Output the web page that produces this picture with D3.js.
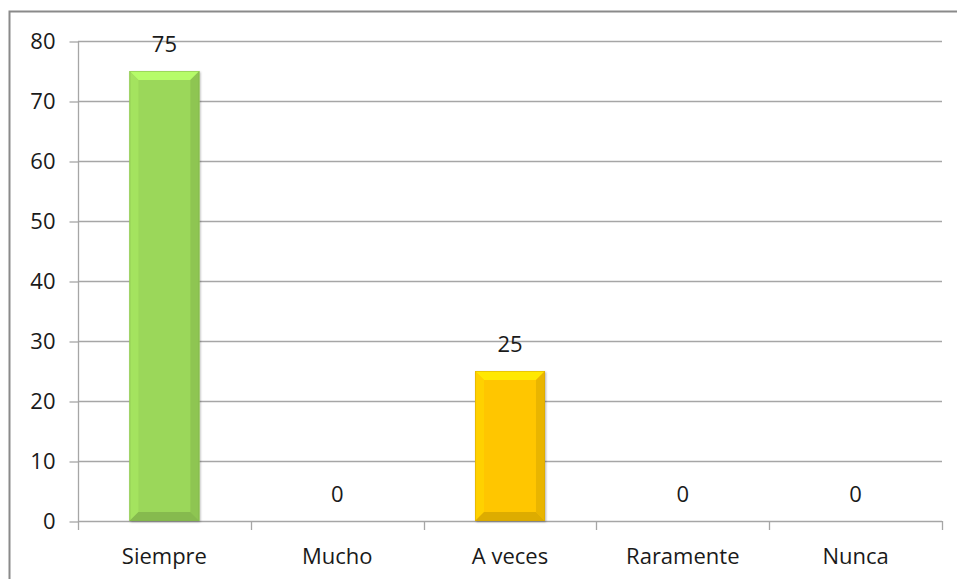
<!DOCTYPE html>
<html>
<head>
<meta charset="utf-8">
<script src="https://cdn.jsdelivr.net/npm/d3@7"></script>
<style>
  html, body { margin: 0; padding: 0; background: #fff; }
  svg { display: block; }
  text { font-family: "Open Sans", sans-serif; fill: #1a1a1a; }
</style>
</head>
<body>
<svg id="chart" width="957" height="579"></svg>
<script>
const categories = ["Siempre", "Mucho", "A veces", "Raramente", "Nunca"];
const values = [75, 0, 25, 0, 0];
const barColors = ["#9BD75A", "#9BD75A", "#FFC600", "#FFC600", "#FFC600"];
const yTicks = [0, 10, 20, 30, 40, 50, 60, 70, 80];

const svg = d3.select("#chart");
const W = 957, H = 579;
const plot = { left: 78, right: 942, top: 41, bottom: 521 };

// outer frame
svg.append("rect")
  .attr("x", 9.5).attr("y", 11.5)
  .attr("width", 960).attr("height", 600)
  .attr("fill", "#fff").attr("stroke", "#8a8a8a").attr("stroke-width", 2);

const x = d3.scaleBand().domain(categories)
  .range([plot.left, plot.right])
  .paddingInner(0.595).paddingOuter(0.2975);
const step = x.step();
const y = d3.scaleLinear().domain([0, 80]).range([plot.bottom, plot.top]);

// gridlines
svg.append("g").selectAll("line").data(yTicks.filter(d => d > 0)).join("line")
  .attr("x1", plot.left).attr("x2", plot.right)
  .attr("y1", d => Math.round(y(d)) + 0.5).attr("y2", d => Math.round(y(d)) + 0.5)
  .attr("stroke", "#a6a6a6").attr("stroke-width", 1.3);

// y axis
const yAxis = d3.axisLeft(y).tickValues(yTicks).tickSize(9).tickPadding(14).tickFormat(d3.format("d"));
const gy = svg.append("g").attr("transform", `translate(${plot.left + 0.5},0.5)`).call(yAxis);
gy.select(".domain").attr("stroke", "#a6a6a6").attr("stroke-width", 1.3).attr("d", `M0,${plot.top}V${plot.bottom}`);
gy.selectAll(".tick line").attr("stroke", "#a6a6a6").attr("stroke-width", 1.3);
gy.selectAll(".tick text")
  .style("font-family", '"Open Sans", sans-serif').style("font-size", "22px").attr("fill", "#1a1a1a");

// x axis baseline and category tick marks
svg.append("line")
  .attr("x1", plot.left).attr("x2", plot.right)
  .attr("y1", plot.bottom + 0.5).attr("y2", plot.bottom + 0.5)
  .attr("stroke", "#a6a6a6").attr("stroke-width", 1.3);
const boundaries = categories.map(c => x(c) - x.paddingInner() * step / 2).concat([plot.right]);
svg.append("g").selectAll("line").data(boundaries).join("line")
  .attr("x1", d => Math.round(d) + 0.5).attr("x2", d => Math.round(d) + 0.5)
  .attr("y1", plot.bottom).attr("y2", plot.bottom + 9)
  .attr("stroke", "#a6a6a6").attr("stroke-width", 1.3);

// category labels
svg.append("g").selectAll("text").data(categories).join("text")
  .attr("x", d => x(d) + x.bandwidth() / 2)
  .attr("y", 564)
  .attr("text-anchor", "middle")
  .style("font-size", "22px")
  .text(d => d);

// bars with bevel
const defs = svg.append("defs");
const filt = defs.append("filter").attr("id", "shadow").attr("x", "-20%").attr("y", "-20%").attr("width", "140%").attr("height", "140%");
filt.append("feDropShadow").attr("dx", 1).attr("dy", 1).attr("stdDeviation", 1.2).attr("flood-color", "#000").attr("flood-opacity", 0.3);

const data = categories.map((c, i) => ({ c, v: values[i], col: barColors[i] }));
const bars = svg.append("g").selectAll("g").data(data.filter(d => d.v > 0)).join("g");
bars.each(function(d) {
  const g = d3.select(this);
  const x0 = x(d.c), x1 = x(d.c) + x.bandwidth();
  const yt = y(d.v), yb = y(0);
  const b = 9;
  const base = d3.color(d.col);
  g.append("rect").attr("x", x0).attr("y", yt).attr("width", x1 - x0).attr("height", yb - yt)
    .attr("fill", d.col).attr("filter", "url(#shadow)");
  const poly = (pts, fill) => g.append("path").attr("d", "M" + pts.map(p => p.join(",")).join("L") + "Z").attr("fill", fill);
  poly([[x0, yt], [x1, yt], [x1 - b, yt + b], [x0 + b, yt + b]], base.brighter(0.45));
  poly([[x0, yt], [x0 + b, yt + b], [x0 + b, yb - b], [x0, yb]], base.brighter(0.15));
  poly([[x1, yt], [x1 - b, yt + b], [x1 - b, yb - b], [x1, yb]], base.darker(0.25));
  poly([[x0, yb], [x0 + b, yb - b], [x1 - b, yb - b], [x1, yb]], base.darker(0.4));
  g.append("rect").attr("x", x0 + 0.5).attr("y", yt + 0.5).attr("width", x1 - x0 - 1).attr("height", yb - yt - 1)
    .attr("fill", "none").attr("stroke", base.darker(0.5)).attr("stroke-width", 1).attr("stroke-opacity", 0.5);
});

// value labels
svg.append("g").selectAll("text").data(data).join("text")
  .attr("x", d => x(d.c) + x.bandwidth() / 2)
  .attr("y", d => y(d.v) - 19)
  .attr("text-anchor", "middle")
  .style("font-size", "22px")
  .text(d => d.v);
</script>
</body>
</html>
